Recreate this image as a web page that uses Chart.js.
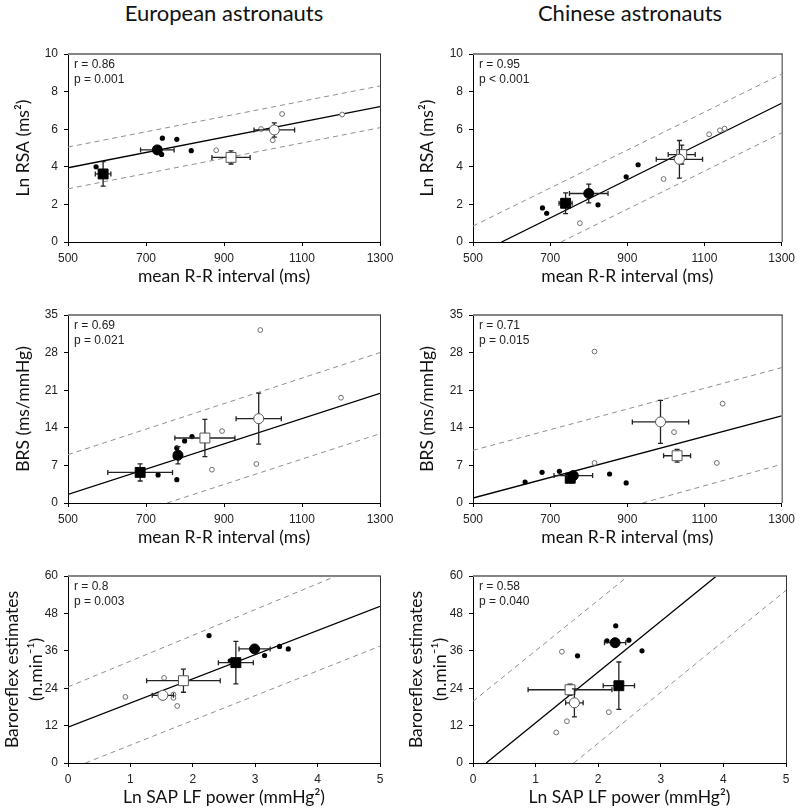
<!DOCTYPE html>
<html>
<head>
<meta charset="utf-8">
<script src="https://cdn.jsdelivr.net/npm/chart.js"></script>
<style>
  html, body { margin: 0; padding: 0; background: #fff; }
  #page { position: relative; width: 800px; height: 811px; overflow: hidden; }
  .col-title {
    position: absolute; top: 0; width: 320px; text-align: center;
    font-family: Lato, 'Open Sans', sans-serif; font-size: 22px; line-height: 26px; color: #111;
  }
  .panel { position: absolute; width: 400px; }
</style>
</head>
<body>
<div id="page">
  <div class="col-title" style="left:64px">European astronauts</div>
  <div class="col-title" style="left:470px">Chinese astronauts</div>

  <div class="panel" style="left:0;top:40px;height:250px"><canvas id="euRsa"></canvas></div>
  <div class="panel" style="left:400px;top:40px;height:250px"><canvas id="cnRsa"></canvas></div>
  <div class="panel" style="left:0;top:300px;height:251px"><canvas id="euBrs"></canvas></div>
  <div class="panel" style="left:400px;top:300px;height:251px"><canvas id="cnBrs"></canvas></div>
  <div class="panel" style="left:0;top:560px;height:251px"><canvas id="euBaro"></canvas></div>
  <div class="panel" style="left:400px;top:560px;height:251px"><canvas id="cnBaro"></canvas></div>
</div>

<script>
// axes
const rrRange = [500, 1300], rrStep = 200;
const rsaRange = [0, 10], rsaStep = 2;
const brsRange = [0, 35], brsStep = 7;
const lfRange = [0, 5], lfStep = 1;
const baroRange = [0, 60], baroStep = 12;

const rrTitle = 'mean R-R interval (ms)';
const rsaTitle = 'Ln RSA (ms²)';
const brsTitle = 'BRS (ms/mmHg)';
const lfTitle = 'Ln SAP LF power (mmHg²)';
const baroTitle = ['Baroreflex estimates', '(n.min⁻¹)'];

// group means, in order: filled circle, filled square, open circle, open square
// each: [x, y, x error, y error]

// European - Ln RSA vs R-R
const euRsaFilled = [[572, 4.0], [742, 5.52], [779, 5.46], [816, 4.86], [740, 4.66], [727, 4.9]];
const euRsaOpen = [[880, 4.88], [995, 6.01], [1025, 5.41], [1049, 6.81], [1203, 6.78]];
const euRsaMeans = [[729, 4.9, 43, 0.15], [590, 3.62, 20, 0.65], [1029, 5.96, 52, 0.38], [918, 4.5, 49, 0.35]];
const euRsaFit = [[500, 3.95], [1300, 7.2]];
const euRsaHi = [[500, 5.05], [1300, 8.3]];
const euRsaLo = [[500, 2.83], [1300, 6.08]];
const euRsaStats = ['r = 0.86', 'p = 0.001'];

// Chinese - Ln RSA vs R-R
const cnRsaFilled = [[680, 1.81], [691, 1.53], [824, 1.98], [897, 3.47], [928, 4.11]];
const cnRsaOpen = [[777, 1.0], [994, 3.35], [1112, 5.73], [1140, 5.94], [1152, 6.03]];
const cnRsaMeans = [[800, 2.58, 50, 0.5], [740, 2.06, 17, 0.55], [1035, 4.4, 60, 1.0], [1041, 4.65, 35, 0.5]];
const cnRsaFit = [[574, 0], [1300, 7.38]];
const cnRsaHi = [[500, 0.85], [1300, 8.93]];
const cnRsaLo = [[728, 0], [1300, 5.8]];
const cnRsaStats = ['r = 0.95', 'p < 0.001'];

// European - BRS vs R-R
const euBrsFilled = [[731, 5.22], [779, 4.35], [779, 10.25], [799, 11.56], [818, 12.37], [775, 8.6]];
const euBrsOpen = [[869, 6.2], [895, 13.4], [983, 7.27], [993, 32.2], [1200, 19.6]];
const euBrsMeans = [[782, 8.9, 8, 1.6], [685, 5.7, 83, 1.6], [989, 15.7, 58, 4.75], [851, 12.1, 77, 3.45]];
const euBrsFit = [[500, 1.6], [1300, 20.4]];
const euBrsHi = [[500, 9.0], [1300, 28.0]];
const euBrsLo = [[754, 0], [1300, 12.9]];
const euBrsStats = ['r = 0.69', 'p = 0.021'];

// Chinese - BRS vs R-R
const cnBrsFilled = [[635, 3.9], [679, 5.72], [724, 5.9], [854, 5.4], [897, 3.73]];
const cnBrsOpen = [[815, 28.2], [815, 7.46], [1021, 13.2], [1132, 7.46], [1147, 18.5]];
const cnBrsMeans = [[760, 5.1, 50, 0.5], [752, 4.6, 10, 0.6], [986, 15.1, 73, 4.0], [1029, 8.8, 35, 1.2]];
const cnBrsFit = [[500, 0.93], [1300, 16.2]];
const cnBrsHi = [[500, 9.8], [1300, 25.2]];
const cnBrsLo = [[939, 0], [1300, 7.2]];
const cnBrsStats = ['r = 0.71', 'p = 0.015'];

// European - baroreflex vs SAP LF
const euBaroFilled = [[2.26, 40.9], [3.15, 34.5], [3.39, 37.4], [3.53, 36.6], [2.6, 32.8]];
const euBaroOpen = [[0.92, 21.2], [1.54, 27.3], [1.69, 22.0], [1.69, 20.9], [1.75, 18.3]];
const euBaroMeans = [[2.99, 36.6, 0.25, 0.8], [2.69, 32.2, 0.28, 6.8], [1.52, 21.7, 0.17, 0.8], [1.85, 26.4, 0.59, 3.7]];
const euBaroFit = [[0, 11.5], [5, 50.3]];
const euBaroHi = [[0, 24.4], [4.3, 60]];
const euBaroLo = [[0.28, 0], [5, 37.5]];
const euBaroStats = ['r = 0.8', 'p = 0.003'];

// Chinese - baroreflex vs SAP LF
const cnBaroFilled = [[2.28, 44.0], [2.14, 39.2], [2.49, 39.4], [1.67, 34.4], [2.70, 36.0]];
const cnBaroOpen = [[1.42, 35.7], [1.33, 9.8], [1.5, 13.4], [2.17, 16.3]];
const cnBaroMeans = [[2.27, 38.6, 0.17, 0.6], [2.33, 24.8, 0.25, 7.6], [1.62, 19.3, 0.14, 4.5], [1.55, 23.5, 0.67, 1.8]];
const cnBaroFit = [[0.21, 0], [3.89, 60]];
const cnBaroHi = [[0, 19.8], [2.48, 60]];
const cnBaroLo = [[1.61, 0], [5, 55.4]];
const cnBaroStats = ['r = 0.58', 'p = 0.040'];

const tickFamily = "'Liberation Sans Narrow', 'Arial Narrow', 'Liberation Sans', Arial, sans-serif";
const titleFamily = "Lato, 'Open Sans', sans-serif";

const meanStyles = [
    { style: 'circle', radius: 5, bg: '#000', border: '#000', order: 2 },
    { style: 'rect', radius: 7, bg: '#000', border: '#000', order: 3 },
    { style: 'circle', radius: 5, bg: '#fff', border: '#555', order: 0 },
    { style: 'rect', radius: 7, bg: '#fff', border: '#555', order: 1 },
];

const toXY = (pts) => pts.map(([x, y]) => ({ x, y }));

const errorBars = {
    id: 'errorBars',
    beforeDatasetDraw(chart, args) {
        const ds = chart.data.datasets[args.index];
        if (!ds.errors) return;
        const { ctx, scales: { x, y } } = chart;
        const cap = 2.5;
        ctx.save();
        ctx.strokeStyle = '#222';
        ctx.lineWidth = 1.3;
        ds.data.forEach((p, i) => {
            const [ex, ey] = ds.errors[i];
            const px = x.getPixelForValue(p.x);
            const py = y.getPixelForValue(p.y);
            const x0 = x.getPixelForValue(p.x - ex), x1 = x.getPixelForValue(p.x + ex);
            const y0 = y.getPixelForValue(p.y - ey), y1 = y.getPixelForValue(p.y + ey);
            ctx.beginPath();
            ctx.moveTo(x0, py); ctx.lineTo(x1, py);
            ctx.moveTo(x0, py - cap); ctx.lineTo(x0, py + cap);
            ctx.moveTo(x1, py - cap); ctx.lineTo(x1, py + cap);
            ctx.moveTo(px, y0); ctx.lineTo(px, y1);
            ctx.moveTo(px - cap, y0); ctx.lineTo(px + cap, y0);
            ctx.moveTo(px - cap, y1); ctx.lineTo(px + cap, y1);
            ctx.stroke();
        });
        ctx.restore();
    },
};

// grey top edge, thin right edge and the r / p note
const frame = {
    id: 'frame',
    afterDatasetsDraw(chart, args, opts) {
        const { ctx, chartArea: a } = chart;
        ctx.save();
        ctx.strokeStyle = '#858585';
        ctx.lineWidth = 2;
        ctx.beginPath();
        ctx.moveTo(a.left, a.top);
        ctx.lineTo(a.right + 1, a.top);
        ctx.stroke();
        ctx.strokeStyle = '#333';
        ctx.lineWidth = 1;
        ctx.beginPath();
        ctx.moveTo(a.right + 0.5, a.top);
        ctx.lineTo(a.right + 0.5, a.bottom);
        ctx.stroke();
        ctx.fillStyle = '#222';
        ctx.font = `12px ${tickFamily}`;
        ctx.textBaseline = 'middle';
        (opts.stats || []).forEach((t, i) => ctx.fillText(t, a.left + 6, a.top + 11 + i * 14.3));
        ctx.restore();
    },
};

function line(pts, dashed) {
    return {
        data: toXY(pts),
        showLine: true,
        pointRadius: 0,
        borderColor: dashed ? '#8f8f8f' : '#000',
        borderWidth: dashed ? 1 : 1.3,
        borderDash: dashed ? [5, 4] : [],
        order: 10,
    };
}

function drawPanel(id, p) {
    const datasets = p.means.map((m, i) => {
        const s = meanStyles[i];
        return {
            data: [{ x: m[0], y: m[1] }],
            errors: [[m[2], m[3]]],
            pointStyle: s.style,
            pointRadius: s.radius,
            backgroundColor: s.bg,
            borderColor: s.border,
            borderWidth: 1,
            order: s.order,
        };
    });
    datasets.push({
        data: toXY(p.filled), pointRadius: 2.6, backgroundColor: '#000', borderColor: '#000', borderWidth: 0, order: 5,
    });
    datasets.push({
        data: toXY(p.open), pointRadius: 2.4, backgroundColor: '#fff', borderColor: '#6e6e6e', borderWidth: 1, order: 6,
    });
    datasets.push(line(p.fit, false), line(p.hi, true), line(p.lo, true));

    const multi = Array.isArray(p.yTitle);

    new Chart(document.getElementById(id), {
        type: 'scatter',
        data: { datasets },
        plugins: [errorBars, frame],
        options: {
            responsive: true,
            maintainAspectRatio: false,
            animation: false,
            events: [],
            layout: { padding: { top: p.padTop, right: p.padRight, left: 0, bottom: 0 } },
            plugins: {
                legend: { display: false },
                tooltip: { enabled: false },
                frame: { stats: p.stats },
            },
            scales: {
                x: {
                    type: 'linear',
                    min: p.xRange[0],
                    max: p.xRange[1],
                    ticks: {
                        stepSize: p.xStep, color: '#222', padding: 5, maxRotation: 0, autoSkip: false,
                        format: { useGrouping: false }, font: { family: tickFamily, size: 12 },
                    },
                    grid: { drawOnChartArea: false, drawTicks: true, tickLength: 4, tickColor: '#000' },
                    border: { color: '#000', width: 1 },
                    title: { display: true, text: p.xTitle, color: '#111', font: { family: titleFamily, size: 17.5 }, padding: { top: 0, bottom: 3 } },
                    afterFit: (scale) => { scale.height = 48; },
                },
                y: {
                    type: 'linear',
                    min: p.yRange[0],
                    max: p.yRange[1],
                    ticks: { stepSize: p.yStep, color: '#222', padding: 6, font: { family: tickFamily, size: 12 } },
                    grid: { drawOnChartArea: false, drawTicks: true, tickLength: 4, tickColor: '#000' },
                    border: { color: '#000', width: 1 },
                    title: {
                        display: true,
                        text: p.yTitle,
                        color: '#111',
                        font: { family: titleFamily, size: 17.5, lineHeight: multi ? 1.4 : 1.2 },
                        padding: { top: p.yTitlePad, bottom: 0 },
                    },
                    afterFit: (scale) => { scale.width = p.yAxisW; },
                },
            },
        },
    });
}

const leftCol = { yAxisW: 68, padRight: 20 };
const rightCol = { yAxisW: 73, padRight: 14 };

drawPanel('euRsa', { ...leftCol, padTop: 14, yTitlePad: 13, xRange: rrRange, xStep: rrStep, yRange: rsaRange, yStep: rsaStep,
    xTitle: rrTitle, yTitle: rsaTitle, filled: euRsaFilled, open: euRsaOpen, means: euRsaMeans,
    fit: euRsaFit, hi: euRsaHi, lo: euRsaLo, stats: euRsaStats });
drawPanel('cnRsa', { ...rightCol, padTop: 14, yTitlePad: 17, xRange: rrRange, xStep: rrStep, yRange: rsaRange, yStep: rsaStep,
    xTitle: rrTitle, yTitle: rsaTitle, filled: cnRsaFilled, open: cnRsaOpen, means: cnRsaMeans,
    fit: cnRsaFit, hi: cnRsaHi, lo: cnRsaLo, stats: cnRsaStats });
drawPanel('euBrs', { ...leftCol, padTop: 15, yTitlePad: 13, xRange: rrRange, xStep: rrStep, yRange: brsRange, yStep: brsStep,
    xTitle: rrTitle, yTitle: brsTitle, filled: euBrsFilled, open: euBrsOpen, means: euBrsMeans,
    fit: euBrsFit, hi: euBrsHi, lo: euBrsLo, stats: euBrsStats });
drawPanel('cnBrs', { ...rightCol, padTop: 15, yTitlePad: 17, xRange: rrRange, xStep: rrStep, yRange: brsRange, yStep: brsStep,
    xTitle: rrTitle, yTitle: brsTitle, filled: cnBrsFilled, open: cnBrsOpen, means: cnBrsMeans,
    fit: cnBrsFit, hi: cnBrsHi, lo: cnBrsLo, stats: cnBrsStats });
drawPanel('euBaro', { ...leftCol, padTop: 16, yTitlePad: 0, xRange: lfRange, xStep: lfStep, yRange: baroRange, yStep: baroStep,
    xTitle: lfTitle, yTitle: baroTitle, filled: euBaroFilled, open: euBaroOpen, means: euBaroMeans,
    fit: euBaroFit, hi: euBaroHi, lo: euBaroLo, stats: euBaroStats });
drawPanel('cnBaro', { ...rightCol, padTop: 16, yTitlePad: 4, xRange: lfRange, xStep: lfStep, yRange: baroRange, yStep: baroStep,
    xTitle: lfTitle, yTitle: baroTitle, filled: cnBaroFilled, open: cnBaroOpen, means: cnBaroMeans,
    fit: cnBaroFit, hi: cnBaroHi, lo: cnBaroLo, stats: cnBaroStats });
</script>
</body>
</html>
